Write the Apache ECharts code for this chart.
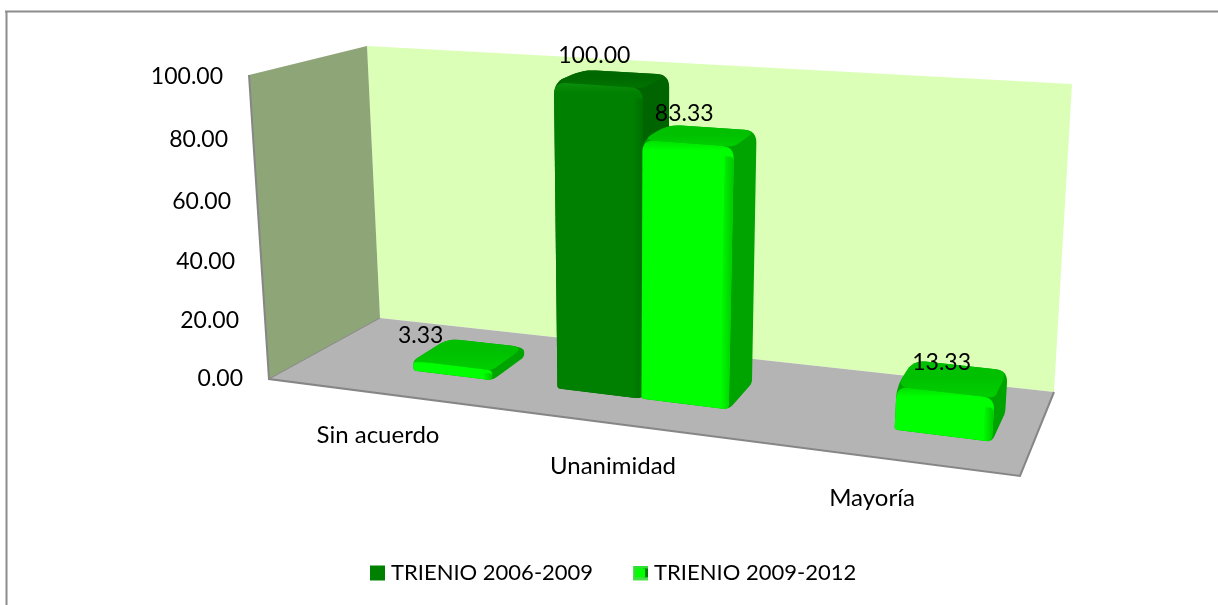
<!DOCTYPE html>
<html>
<head>
    <meta charset="utf-8">
    <title>Trienios</title>
    <script src="https://cdn.jsdelivr.net/npm/echarts@6/dist/echarts.min.js"></script>
    <style>
        html, body { margin: 0; padding: 0; background: #fff; }
        #main { width: 1218px; height: 605px; }
    </style>
</head>
<body>
<div id="main"></div>
<script>
    // data
    var categories = ['Sin acuerdo', 'Unanimidad', 'Mayoría'];
    var trienio1 = [null, 100.00, null];
    var trienio2 = [3.33, 83.33, 13.33];
    var seriesNames = ['TRIENIO 2006-2009', 'TRIENIO 2009-2012'];
    var tickLabels = ['0.00', '20.00', '40.00', '60.00', '80.00', '100.00'];

    // the box the bars stand in, screen corners
    var frontBottomLeft = [269, 379], frontBottomRight = [1020, 476];
    var backBottomLeft = [380, 318], backBottomRight = [1054, 392];
    var frontTopLeft = [249, 75], frontTopRight = [1046, 132];
    var backTopLeft = [367, 46], backTopRight = [1072, 84];
    var PERSP = 1.17;
    var DEPTH_FRONT = 0.35, DEPTH_BACK = 0.70;
    var BAR_WIDTH = 0.357; // share of a category band
    var FONT = 'Lato, "Open Sans", sans-serif';

    var tickShiftX = [0, 4, 8, 12, 15, 20];
    var tickShiftY = [0, 2.4, 3.8, 4.2, 2.6, 0];
    var catShiftX = [17, 32, 23];
    var catShiftY = [0, 31, 63];
    var labelShiftX = {0: -28};

    function lerp(a, b, k) {
        return [a[0] + (b[0] - a[0]) * k, a[1] + (b[1] - a[1]) * k];
    }

    function project(t, v, w) {
        var u = t / (PERSP - (PERSP - 1) * t);
        var bottom = lerp(lerp(frontBottomLeft, frontBottomRight, u), lerp(backBottomLeft, backBottomRight, u), w);
        var top = lerp(lerp(frontTopLeft, frontTopRight, u), lerp(backTopLeft, backTopRight, u), w);
        return lerp(bottom, top, v);
    }

    // corners of a polygon rounded off, sampled as points
    function rounded(pts, radii) {
        var out = [];
        for (var i = 0; i < pts.length; i++) {
            var p = pts[i], a = pts[(i + pts.length - 1) % pts.length], b = pts[(i + 1) % pts.length];
            var la = Math.hypot(p[0] - a[0], p[1] - a[1]), lb = Math.hypot(p[0] - b[0], p[1] - b[1]);
            var ra = Math.min(radii[i], la / 2), rb = Math.min(radii[i], lb / 2);
            var s = lerp(p, a, ra / la), e = lerp(p, b, rb / lb);
            for (var k = 0; k <= 6; k++) {
                var q = k / 6;
                out.push(lerp(lerp(s, p, q), lerp(p, e, q), q));
            }
        }
        return out;
    }

    function poly(points, fill) {
        return {type: 'polygon', shape: {points: points}, style: {fill: fill}};
    }

    function barRenderer(offset, colors) {
        return function (params, api) {
            var val = api.value(1);
            if (val === null || isNaN(val)) return;
            var cat = api.value(0);
            var rect = params.coordSys;
            var c = api.coord([cat, val]);
            var base = api.coord([cat, 0]);
            var band = api.size([1, 0])[0];
            var t0 = (c[0] - rect.x + offset * band) / rect.width;
            var t1 = t0 + BAR_WIDTH * band / rect.width;
            var v = (base[1] - c[1]) / rect.height;
            var f = DEPTH_FRONT, b = DEPTH_BACK;
            var fbl = project(t0, 0, f), fbr = project(t1, 0, f), ftl = project(t0, v, f), ftr = project(t1, v, f);
            var bbr = project(t1, 0, b), btl = project(t0, v, b), btr = project(t1, v, b);
            var h = fbl[1] - ftl[1];
            var low = Math.min(12, h / 2.2);
            var bev = Math.min(10, h / 3);

            var kids = [];
            // everything seen from behind, side colour shows where nothing covers it
            kids.push(poly(rounded([ftl, btl, btr, bbr, fbr, fbl], [low, 12, 12, 4, 6, 3]), colors.side));
            kids.push(poly(rounded([ftl, ftr, btr, btl], [low, 5, 12, 12]), new echarts.graphic.LinearGradient(0, 1, 0, 0, [
                {offset: 0, color: colors.topFront},
                {offset: 0.6, color: colors.top},
                {offset: 1, color: colors.top}
            ])));
            // front with a soft rim along the top
            var k = Math.min(0.5, bev / (h + 14));
            kids.push(poly(rounded([ftl, ftr, fbr, fbl], [low, low, 6, 3]), new echarts.graphic.LinearGradient(0, 0, 0, 1, [
                {offset: 0, color: colors.rim},
                {offset: k, color: colors.front},
                {offset: 1, color: colors.front}
            ])));
            // darker strip down the front's right edge
            var rimW = 9 / Math.hypot(ftr[0] - ftl[0], ftr[1] - ftl[1]);
            var stripT = lerp(ftr, ftl, rimW), stripB = lerp(fbr, fbl, rimW);
            var stripTop = lerp(stripT, stripB, Math.min(0.4, bev / h));
            var rTop = lerp(ftr, fbr, Math.min(0.4, bev / h));
            kids.push(poly(rounded([stripTop, rTop, fbr, stripB], [0, low / 2, 6, 0]), new echarts.graphic.LinearGradient(0, 0, 1, 0, [
                {offset: 0, color: colors.front},
                {offset: 1, color: colors.strip}
            ])));

            var mid = lerp(ftl, ftr, 0.5);
            kids.push({
                type: 'text',
                style: {
                    text: val.toFixed(2),
                    x: mid[0] - 4 + (labelShiftX[cat] || 0),
                    y: mid[1] - 30,
                    fill: '#000',
                    fontFamily: FONT,
                    fontSize: 23,
                    align: 'center',
                    verticalAlign: 'middle'
                }
            });
            return {type: 'group', children: kids};
        };
    }

    function toItems(list) {
        return list.map(function (v, i) { return [i, v]; });
    }

    var yRich = {}, xRich = {};
    tickLabels.forEach(function (t, i) {
        yRich['t' + i] = {fontFamily: FONT, fontSize: 23, color: '#000', padding: [tickShiftY[i] * 2, tickShiftX[i], 0, 0]};
    });
    categories.forEach(function (t, i) {
        xRich['c' + i] = {fontFamily: FONT, fontSize: 24, color: '#000', padding: [catShiftY[i], catShiftX[i] * 2, 0, 0]};
    });

    var legendIcon2 = 'image://data:image/svg+xml,' + encodeURIComponent(
        '<svg xmlns="http://www.w3.org/2000/svg" width="15" height="15">' +
        '<rect width="15" height="15" fill="#33dd33"/>' +
        '<rect x="10" y="3" width="5" height="9" fill="#007a00"/>' +
        '<rect x="3" y="3" width="9" height="9" fill="#00ff00"/>' +
        '<rect x="0" y="12" width="15" height="3" fill="#44e044"/></svg>');

    var chart = echarts.init(document.getElementById('main'));
    chart.setOption({
        backgroundColor: '#fff',
        animation: false,
        grid: {left: 270, right: 198, top: 77, bottom: 226},
        xAxis: {
            type: 'category',
            data: categories,
            axisLine: {show: false},
            axisTick: {show: false},
            axisLabel: {
                interval: 0,
                margin: 44,
                verticalAlign: 'top',
                formatter: function (v, i) { return '{c' + i + '|' + v + '}'; },
                rich: xRich
            }
        },
        yAxis: {
            type: 'value',
            min: 0,
            max: 100,
            interval: 20,
            axisLine: {show: false},
            axisTick: {show: false},
            splitLine: {show: false},
            axisLabel: {
                margin: 27,
                formatter: function (v, i) { return '{t' + i + '|' + tickLabels[i] + '}'; },
                rich: yRich
            }
        },
        legend: {
            left: 370,
            top: 562,
            padding: 0,
            itemWidth: 15,
            itemHeight: 15,
            itemGap: 40,
            textStyle: {fontFamily: FONT, fontSize: 22, color: '#000', padding: [0, 0, 0, 1]},
            data: [
                {name: seriesNames[0], icon: 'rect'},
                {name: seriesNames[1], icon: legendIcon2}
            ]
        },
        graphic: [
            // only the top and left of the outer frame are in the picture
            {type: 'line', z: 0, shape: {x1: 5, y1: 11.5, x2: 1218, y2: 11.5}, style: {stroke: '#8c8c8c', lineWidth: 2}},
            {type: 'line', z: 0, shape: {x1: 6.5, y1: 11, x2: 6.5, y2: 605}, style: {stroke: '#8c8c8c', lineWidth: 2}},
            {type: 'polygon', z: 0, shape: {points: [backTopLeft, backTopRight, backBottomRight, backBottomLeft]}, style: {fill: '#dcffb8'}},
            {type: 'polygon', z: 0, shape: {points: [frontTopLeft, backTopLeft, backBottomLeft, frontBottomLeft]}, style: {fill: '#8ea577'}},
            {type: 'polygon', z: 0, shape: {points: [frontBottomLeft, backBottomLeft, backBottomRight, frontBottomRight]}, style: {fill: '#b4b4b4'}},
            {type: 'polyline', z: 0, shape: {points: [frontTopLeft, frontBottomLeft, frontBottomRight, backBottomRight]}, style: {fill: 'none', stroke: '#868686', lineWidth: 2}},
            {type: 'line', z: 0, shape: {x1: frontBottomLeft[0], y1: frontBottomLeft[1], x2: backBottomLeft[0], y2: backBottomLeft[1]}, style: {stroke: '#868686', lineWidth: 1}}
        ],
        series: [
            {
                name: seriesNames[0],
                type: 'custom',
                data: toItems(trienio1),
                encode: {x: 0, y: 1},
                itemStyle: {color: '#008000'},
                renderItem: barRenderer(-BAR_WIDTH, {front: '#008000', rim: '#0b8f0b', top: '#006800', topFront: '#007400', side: '#006400', strip: '#006e00'})
            },
            {
                name: seriesNames[1],
                type: 'custom',
                data: toItems(trienio2),
                encode: {x: 0, y: 1},
                itemStyle: {color: '#00ff00'},
                renderItem: barRenderer(0, {front: '#00ff00', rim: '#00e000', top: '#00c000', topFront: '#00cf00', side: '#00a400', strip: '#00c800'})
            }
        ]
    });
</script>
</body>
</html>
